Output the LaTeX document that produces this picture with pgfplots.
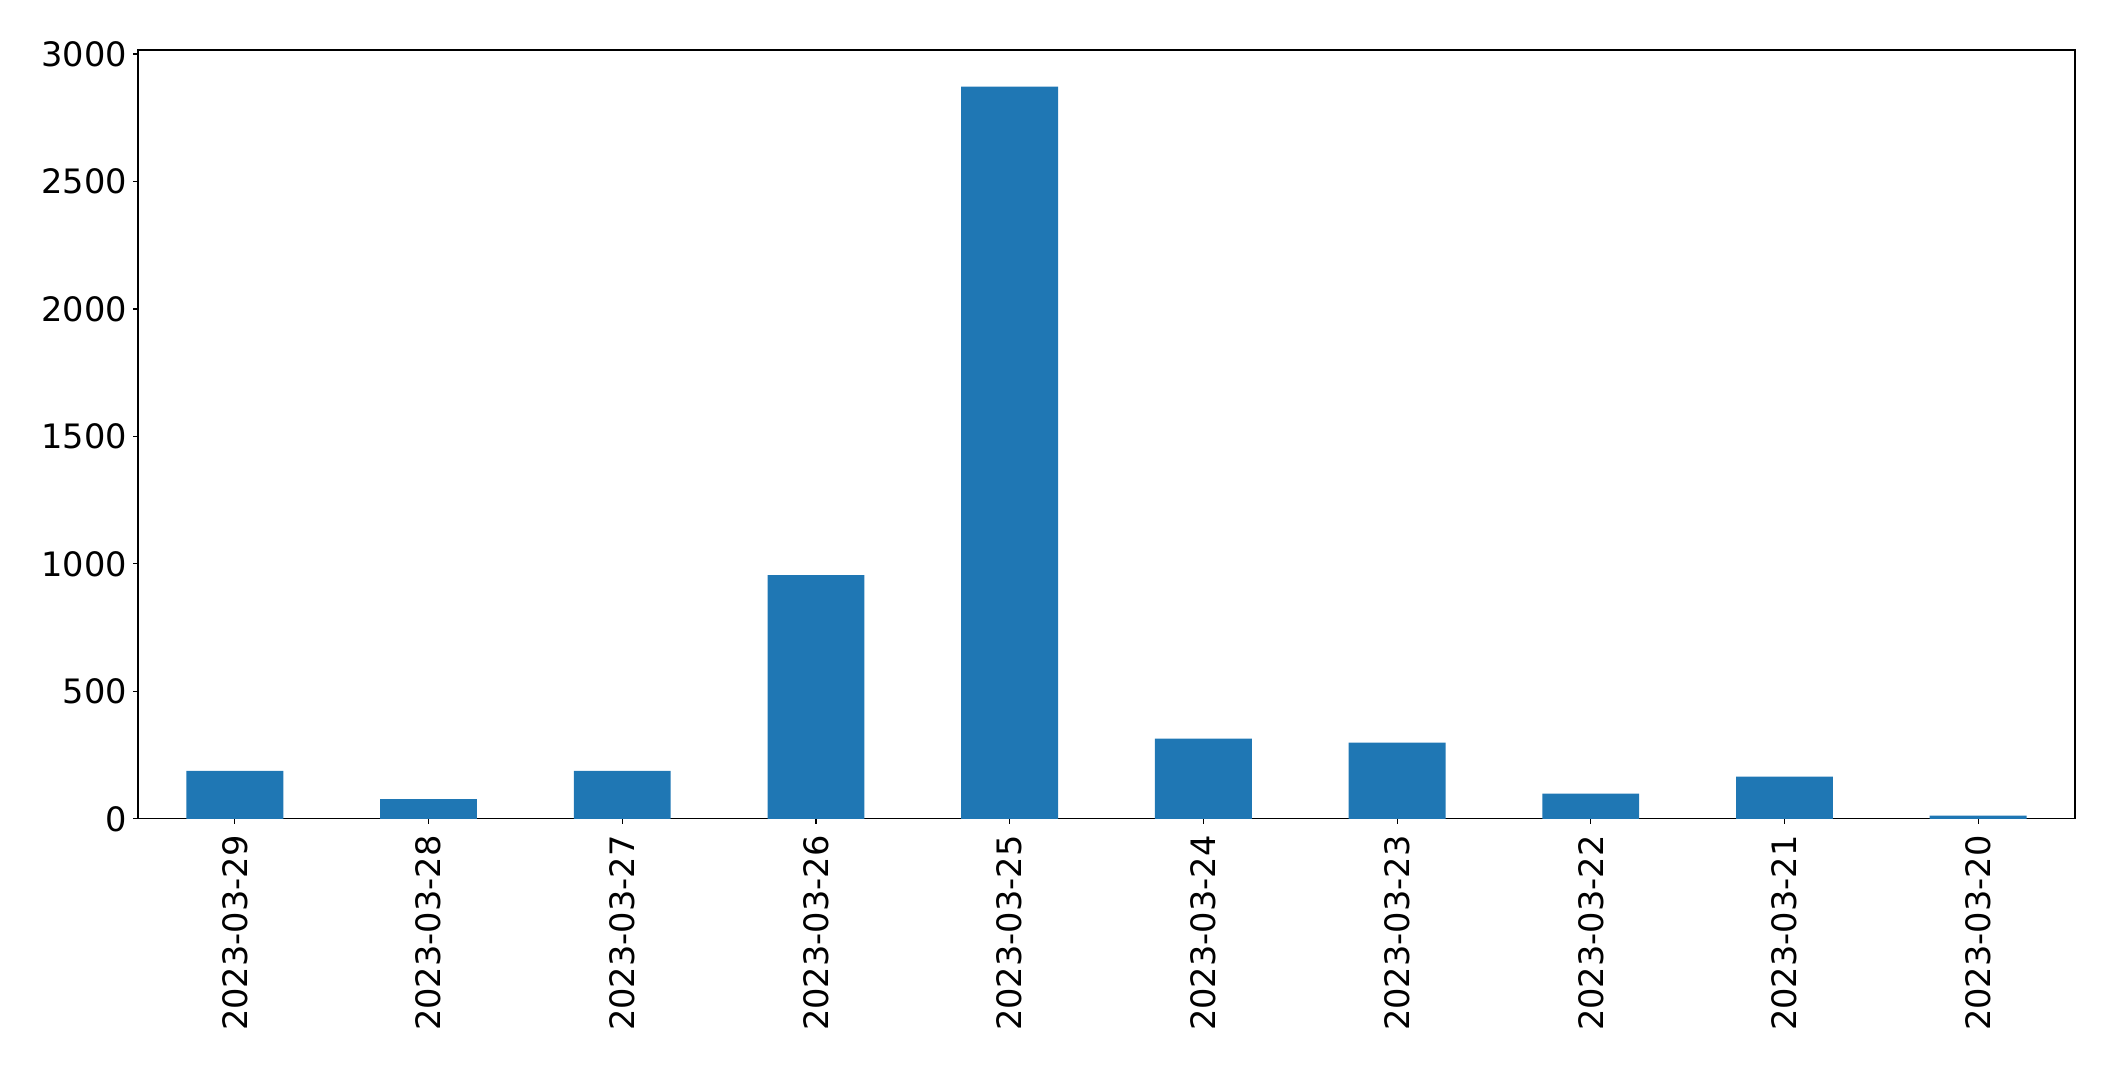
\documentclass[border=0pt]{standalone}
\usepackage{fontspec}
\setmainfont{DejaVu Sans}
\usepackage{pgfplots}
\pgfplotsset{compat=1.18}
\definecolor{tabblue}{HTML}{1F77B4}
\begin{document}
\fontsize{12}{14}\selectfont
\begin{tikzpicture}
\begin{axis}[
  width=697.3pt, height=276.8pt, scale only axis,
  xmin=-0.5, xmax=9.5, ymin=0, ymax=3015.6,
  enlargelimits=false,
  xtick={0,1,2,3,4,5,6,7,8,9},
  xticklabels={2023-03-29,2023-03-28,2023-03-27,2023-03-26,2023-03-25,2023-03-24,2023-03-23,2023-03-22,2023-03-21,2023-03-20},
  x tick label style={rotate=90, anchor=east},
  ytick={0,500,1000,1500,2000,2500,3000},
  tick align=outside, tick pos=left,
  major tick length=1.75pt,
  axis line style={line width=0.4pt},
  every tick/.style={black, line width=0.4pt},
  /pgf/number format/assume math mode=true,
  /pgf/number format/1000 sep={},
  tick label style={font=\fontsize{12.1}{14}\selectfont, inner sep=0pt},
  xticklabel shift=4pt, yticklabel shift=2pt,
  ybar, bar width=34.87pt,
]
\addplot[fill=tabblue, draw=none] coordinates {
  (0,188) (1,78) (2,188) (3,956) (4,2872) (5,315) (6,299) (7,99) (8,166) (9,13)
};
\end{axis}
\pgfresetboundingbox
\path[use as bounding box] ([xshift=-49.68pt,yshift=-90.72pt]current axis.south west) rectangle ([xshift=14.4pt,yshift=18pt]current axis.north east);
\end{tikzpicture}
\end{document}
